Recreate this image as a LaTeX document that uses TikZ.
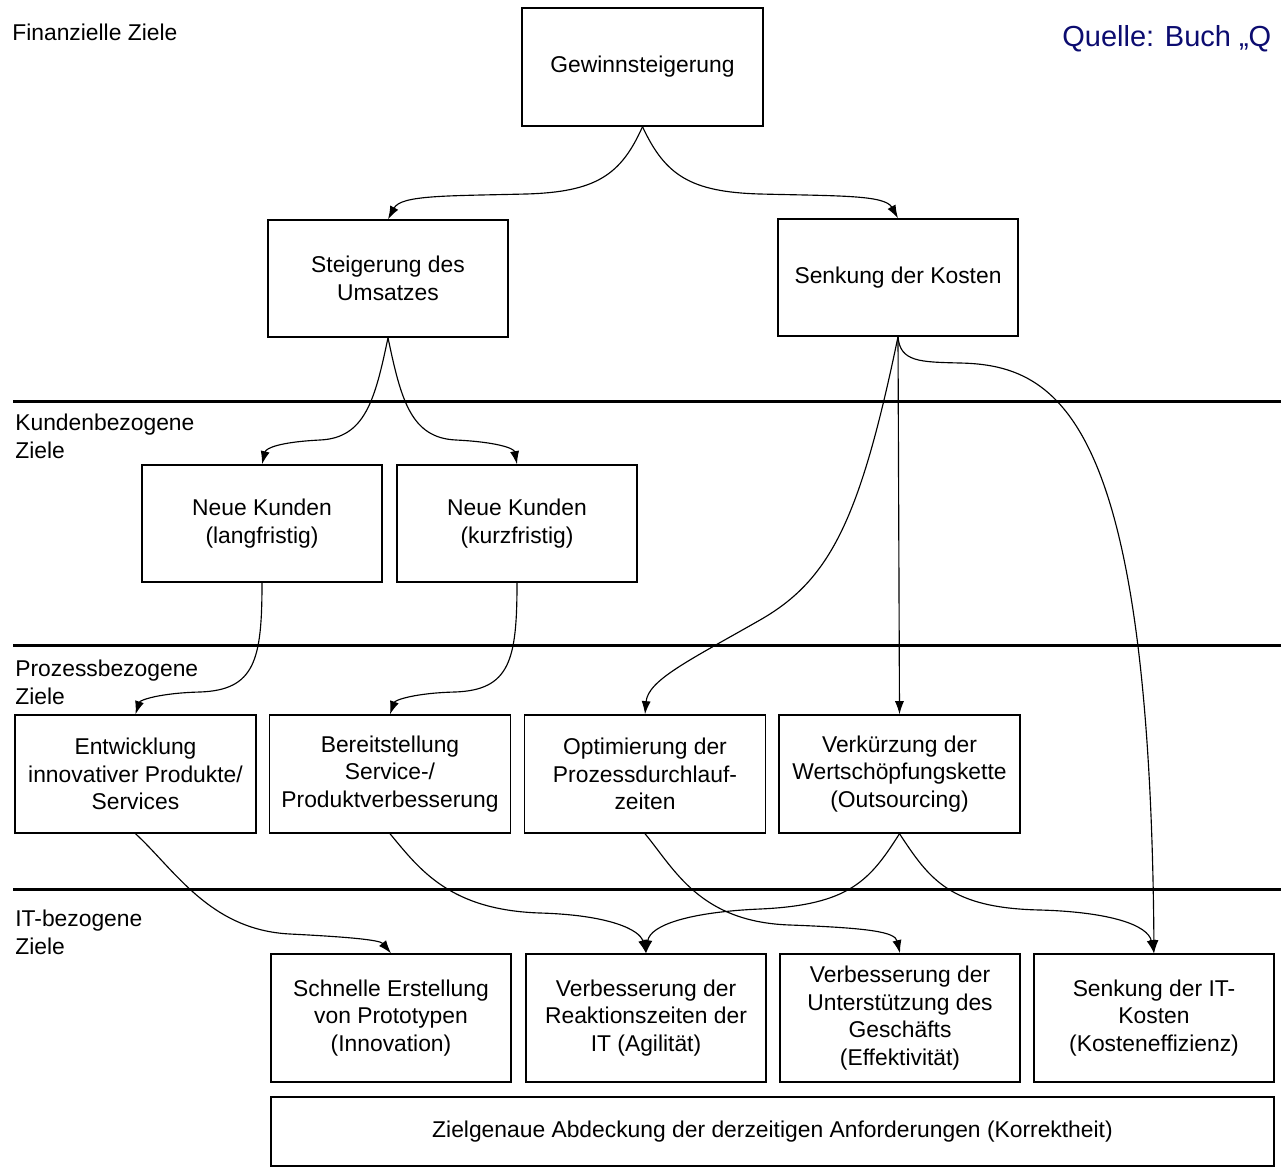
\documentclass[tikz,border=0pt]{standalone}
\usepackage{fontspec}
\setmainfont{Liberation Sans}
\usetikzlibrary{arrows.meta}
\definecolor{quellblau}{RGB}{12,12,112}
\begin{document}
\begin{tikzpicture}[x=0.02cm,y=-0.02cm,
  every node/.style={font=\fontsize{13}{15.8}\selectfont},
  box/.style={draw, line width=0.8pt, align=center, inner sep=1pt},
  topbox/.style={box, minimum width=4.82cm, minimum height=2.36cm},
  midbox/.style={box, minimum width=4.80cm, minimum height=2.34cm},
  procbox/.style={box, minimum width=4.82cm, minimum height=2.36cm},
  itbox/.style={box, minimum width=4.80cm, minimum height=2.56cm},
  label/.style={align=left, anchor=west, inner sep=0pt},
  sep/.style={line width=1.7pt},
  conn/.style={line width=0.65pt, -{Latex[length=7.5pt,width=5.2pt]}}
]
\fill[white] (0,0) rectangle (1281,1167);
\useasboundingbox (0,0) rectangle (1281,1167);

% level separators
\draw[sep] (13,401) -- (1281,401);
\draw[sep] (13,645) -- (1281,645);
\draw[sep] (13,889) -- (1281,889);

% level labels
\node[label] (lfin) at (12,32) {Finanzielle Ziele};
\node[label] (lkun) at (15,436) {Kundenbezogene\\Ziele};
\node[label] (lpro) at (15,682) {Prozessbezogene\\Ziele};
\node[label] (lit)  at (15,932) {IT-bezogene\\Ziele};
\node[anchor=west, inner sep=0pt, text=quellblau, font=\fontsize{16.5}{19}\selectfont]
  (quelle) at (1062,39) {Quelle: Buch „Q};

% financial goals
\node[topbox] (gew)  at (642.5,67)  {Gewinnsteigerung};
\node[midbox] (st)   at (388,278.5) {Steigerung des\\Umsatzes};
\node[midbox] (senk) at (898,277.5) {Senkung der Kosten};

% customer goals
\node[midbox] (nl) at (262,523.5) {Neue Kunden\\(langfristig)};
\node[midbox] (nk) at (517,523.5) {Neue Kunden\\(kurzfristig)};

% process goals
\node[procbox] (p1) at (135.5,774) {Entwicklung\\innovativer Produkte/\\Services};
\node[procbox] (p2) at (390,774)   {Bereitstellung\\Service-/\\Produktverbesserung};
\node[procbox] (p3) at (645,774)   {Optimierung der\\Prozessdurchlauf-\\zeiten};
\node[procbox] (p4) at (899.5,774) {Verkürzung der\\Wertschöpfungskette\\(Outsourcing)};

% IT goals
\node[itbox] (i1) at (391,1018)  {Schnelle Erstellung\\von Prototypen\\(Innovation)};
\node[itbox] (i2) at (646,1018)  {Verbesserung der\\Reaktionszeiten der\\IT (Agilität)};
\node[itbox] (i3) at (900,1018)  {Verbesserung der\\Unterstützung des\\Geschäfts\\(Effektivität)};
\node[itbox] (i4) at (1154,1018) {Senkung der IT-\\Kosten\\(Kosteneffizienz)};
\node[box, minimum width=20.06cm, minimum height=1.38cm] (korr) at (772.5,1131.5)
  {Zielgenaue Abdeckung der derzeitigen Anforderungen (Korrektheit)};

% connectors: financial level
\draw[conn] (gew.south) .. controls (621,175) and (596,192) .. (526,194)
  .. controls (446,196) and (401,195) .. (st.north);
\draw[conn] (gew.south) .. controls (665,175) and (690,192) .. (760,194)
  .. controls (840,196) and (885,195) .. (senk.north);

% connectors: revenue to customers
\draw[conn] (st.south) .. controls (375,400) and (365,438) .. (320,440)
  .. controls (280,442) and (266,448) .. (nl.north);
\draw[conn] (st.south) .. controls (401,400) and (411,438) .. (456,440)
  .. controls (496,442) and (514,448) .. (nk.north);

% connectors: customers to processes
\draw[conn] (nl.south) .. controls (262,660) and (255,690) .. (200,692)
  .. controls (160,693) and (140,700) .. (p1.north);
\draw[conn] (nk.south) .. controls (517,660) and (510,690) .. (455,692)
  .. controls (415,693) and (395,700) .. (p2.north);

% connectors: cost reduction
\draw[conn] (senk.south) .. controls (860,520) and (830,580) .. (760,620)
  .. controls (690,660) and (648,680) .. (p3.north);
\draw[conn] (senk.south) -- (p4.north);
\draw[conn] (senk.south) .. controls (900,362) and (920,362) .. (960,363)
  .. controls (1060,365) and (1150,420) .. (i4.north);

% connectors: processes to IT
\draw[conn] (p1.south) .. controls (175,870) and (210,930) .. (290,934)
  .. controls (350,937) and (380,940) .. (i1.north);
\draw[conn] (p2.south) .. controls (420,870) and (450,910) .. (540,913)
  .. controls (610,915) and (640,930) .. (i2.north);
\draw[conn] (p3.south) .. controls (675,870) and (700,922) .. (790,925)
  .. controls (870,928) and (895,932) .. (i3.north);
\draw[conn] (p4.south) .. controls (870,880) and (850,905) .. (760,909)
  .. controls (690,912) and (650,925) .. (i2.north);
\draw[conn] (p4.south) .. controls (930,880) and (950,908) .. (1040,910)
  .. controls (1110,912) and (1148,925) .. (i4.north);
\end{tikzpicture}
\end{document}
